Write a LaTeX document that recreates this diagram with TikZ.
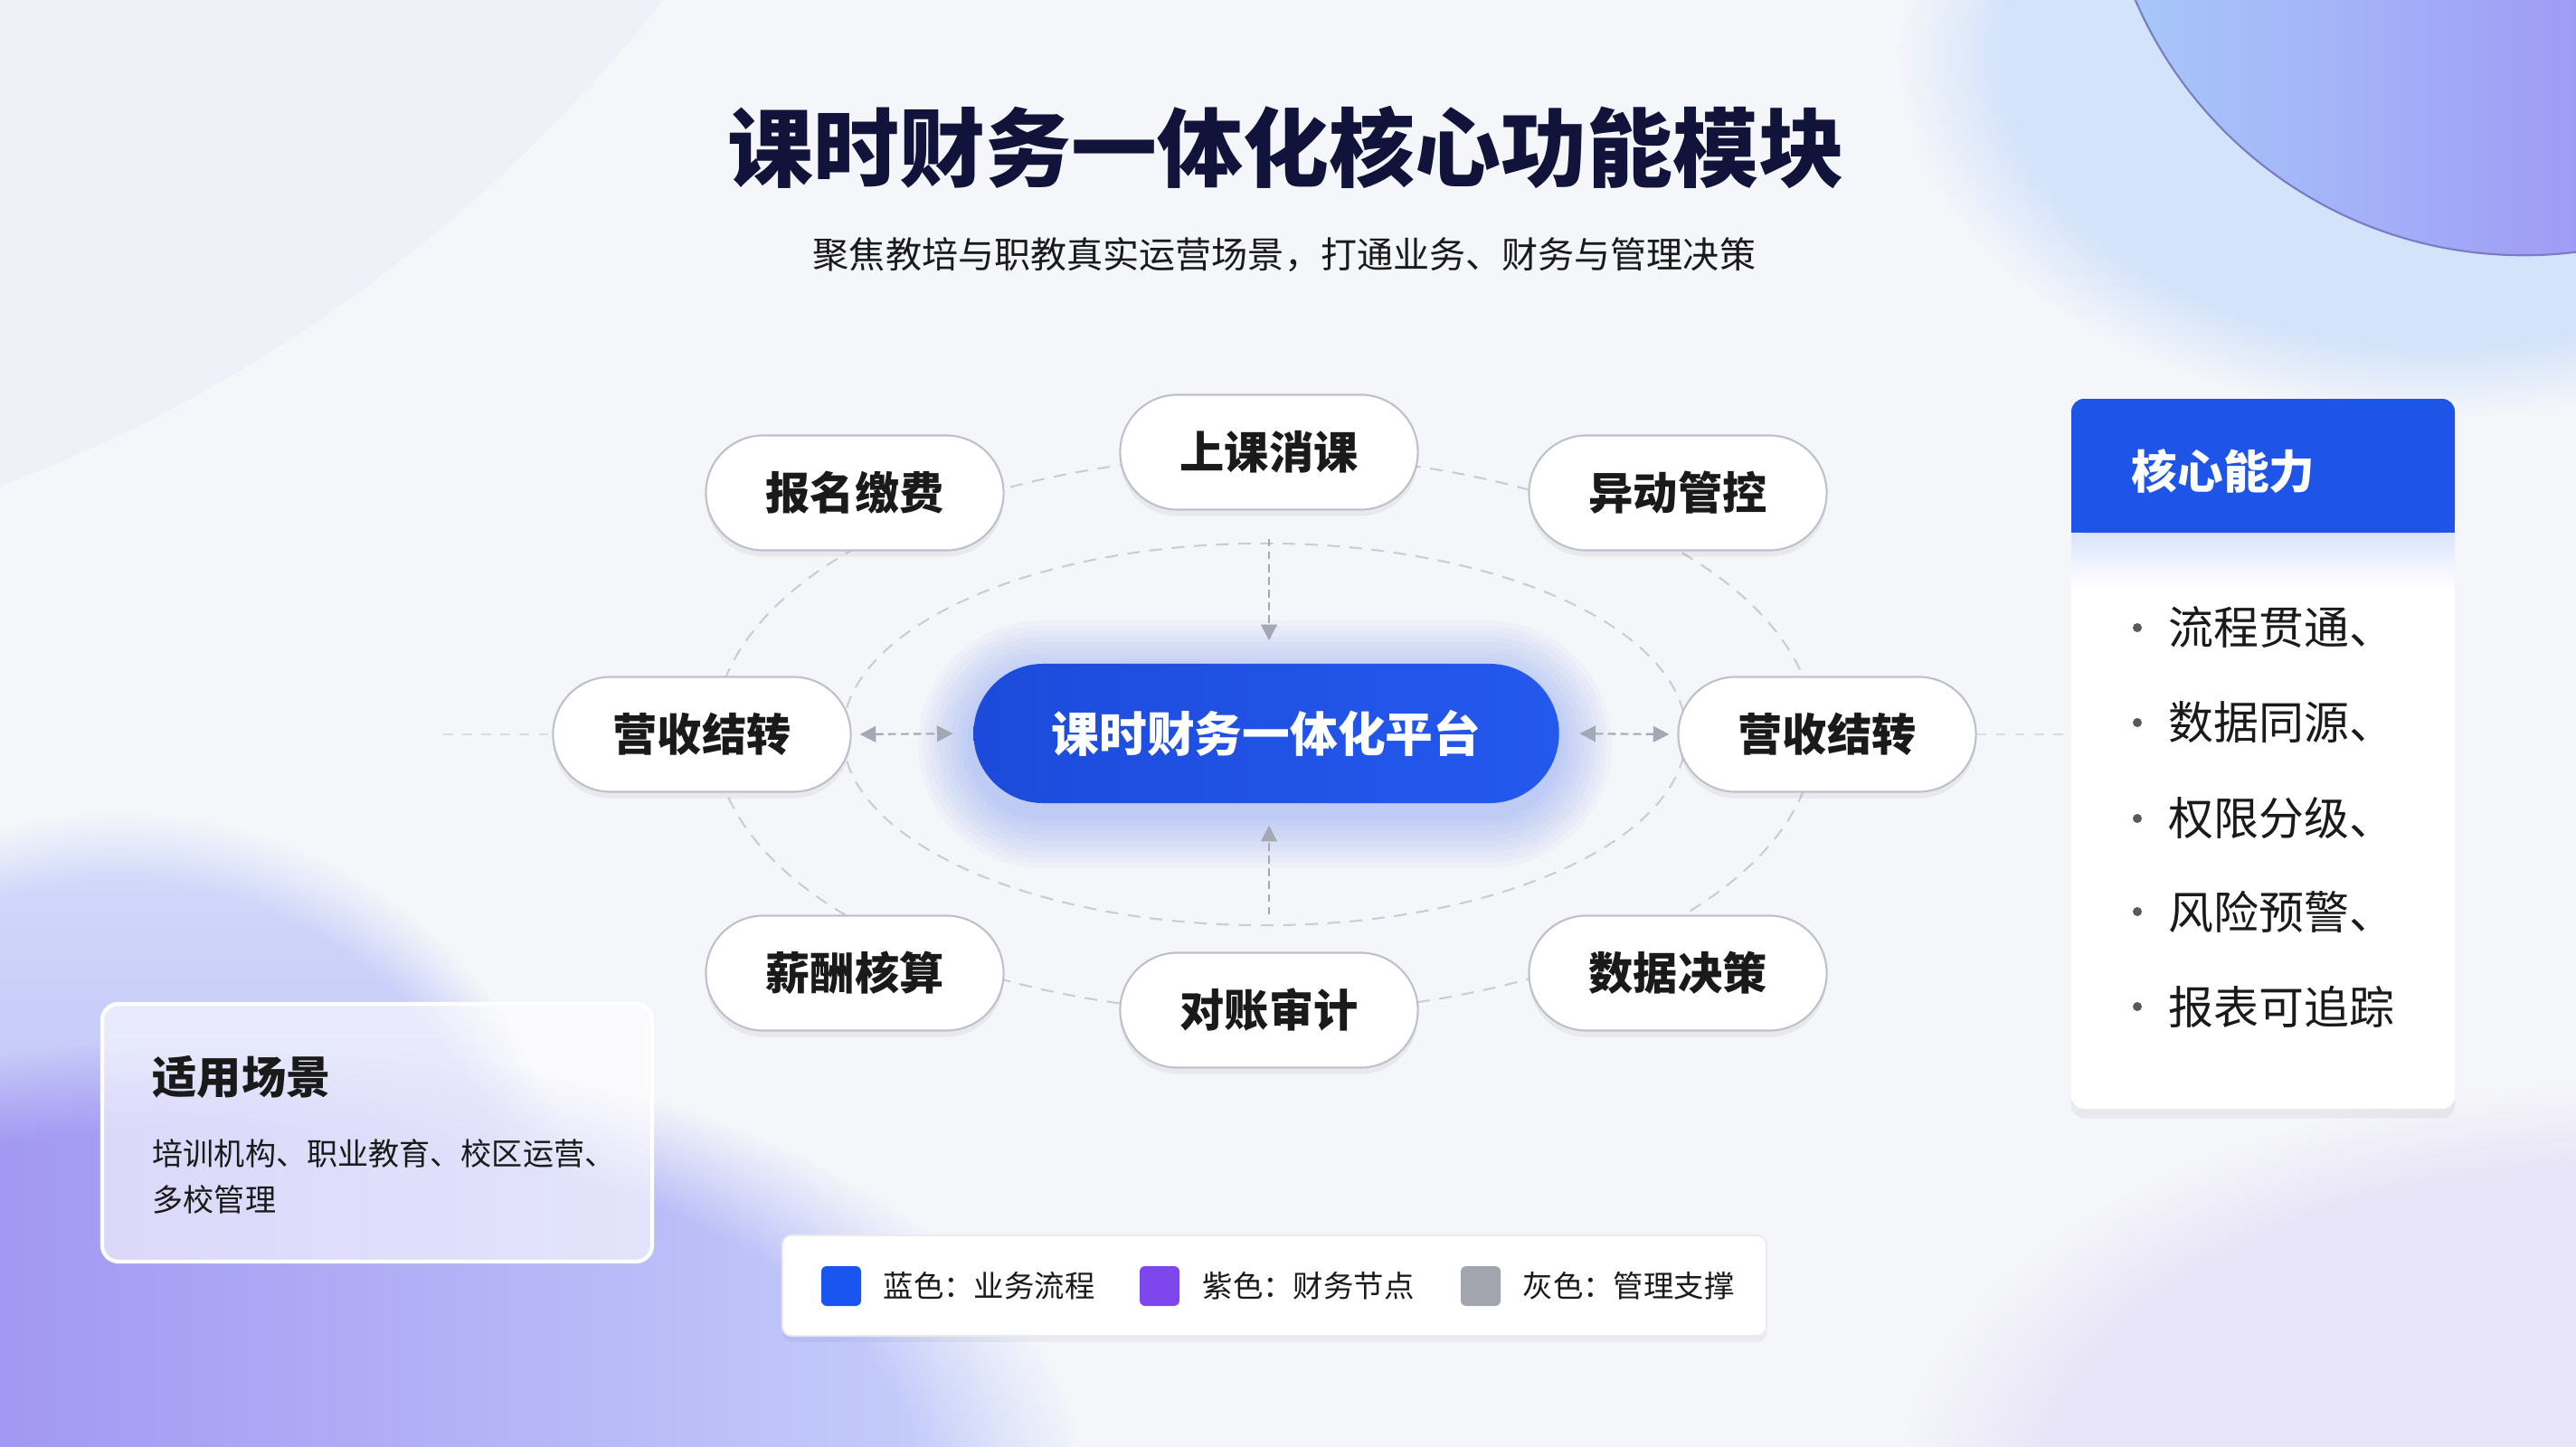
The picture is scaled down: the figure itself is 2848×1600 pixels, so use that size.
\documentclass[tikz,border=0pt]{standalone}
\usepackage{fontspec}
\setmainfont{Noto Sans CJK SC}
\usetikzlibrary{arrows.meta,shadows,fadings,calc}
\definecolor{bg}{HTML}{F5F6FA}
\definecolor{navy}{HTML}{12133A}
\definecolor{hubA}{HTML}{1C4BDB}
\definecolor{hubB}{HTML}{2459EE}
\definecolor{glowc}{HTML}{3A6BF5}
\definecolor{ringc}{HTML}{CACDD6}
\definecolor{nodeborder}{HTML}{BEC1CB}
\definecolor{arrowgray}{HTML}{A4A8B4}
\definecolor{faintc}{HTML}{DADCE4}
\definecolor{lgblue}{HTML}{1A55F0}
\definecolor{lgpurple}{HTML}{7E47EE}
\definecolor{lggray}{HTML}{A3A5AE}
\definecolor{txt}{HTML}{1A1A1A}
\definecolor{hdrblue}{HTML}{1F54E8}
\definecolor{tlblue}{HTML}{EFF1F9}
\definecolor{blobA}{HTML}{8C74EE}
\definecolor{blobB}{HTML}{C9D5FB}
\definecolor{blobC}{HTML}{D3DDFA}
\definecolor{blobD}{HTML}{A396F4}
\definecolor{trA}{HTML}{A8CAF9}
\definecolor{trM}{HTML}{B4ADF7}
\definecolor{trB}{HTML}{9878F3}
\definecolor{trLine}{HTML}{7C7BC2}
\definecolor{haze}{HTML}{D3E3FA}
\definecolor{lav}{HTML}{E9E5F8}
\begin{document}
\begin{tikzpicture}[x=0.01cm,y=-0.01cm,
  gtip/.tip={Triangle[length=5pt,width=5pt]},
  softshadow/.style={drop shadow={shadow xshift=0pt, shadow yshift=-2pt, opacity=0.05, fill=black}},
  mod/.style={draw=nodeborder, line width=0.6pt, fill=white, rounded corners=0.635cm,
    minimum width=3.29cm, minimum height=1.27cm, inner sep=0pt,
    font=\fontsize{14}{16}\selectfont\bfseries, text=txt, softshadow},
  hub/.style={rounded corners=0.77cm, minimum width=6.47cm, minimum height=1.54cm, inner sep=0pt,
    left color=hubA, right color=hubB, text=white, font=\fontsize{15}{17}\selectfont\bfseries},
  ring/.style={draw=ringc, line width=0.6pt, dash pattern=on 4pt off 3pt},
  arr/.style={draw=arrowgray, line width=0.6pt, dash pattern=on 2.5pt off 1.5pt},
  faint/.style={draw=faintc, line width=0.6pt, dash pattern=on 3pt off 3pt},
  bul/.style={anchor=west, inner sep=0pt, font=\fontsize{14.2}{16}\selectfont, text=txt},
  lgtext/.style={anchor=west, inner sep=0pt, font=\fontsize{9.5}{11}\selectfont, text=txt},
  sq/.style={rounded corners=0.06cm}
]
\useasboundingbox (0,0) rectangle (2848,1600);
% ---------- background ----------
\fill[bg] (0,0) rectangle (2848,1600);
\begin{scope}
\clip (0,0) rectangle (2848,1600);
\fill[tlblue] (-601,-1052) circle (16.98cm);
\fill[lav, path fading=circle with fuzzy edge 20 percent] (2900,1650) ellipse [x radius=8cm, y radius=4.5cm];
\fill[haze, path fading=circle with fuzzy edge 20 percent] (2700,60) ellipse [x radius=6cm, y radius=4cm];
\shade[top color=blobC, bottom color=blobD, path fading=circle with fuzzy edge 15 percent] (130,1420) circle (5.2cm);
\shade[left color=blobA, right color=blobB, path fading=circle with fuzzy edge 20 percent] (250,1650) ellipse [x radius=9.5cm, y radius=5cm];
\shade[left color=trA, middle color=trM, right color=trB] (2790,-185) circle (4.67cm);
\draw[trLine, line width=0.6pt] (2790,-185) circle (4.67cm);
\end{scope}
% ---------- title ----------
\node[font=\fontsize{27}{30}\selectfont\bfseries, text=navy] (title) at (1422,163) {课时财务一体化核心功能模块};
\node[font=\fontsize{11.4}{13}\selectfont, text=txt] (sub) at (1420,282) {聚焦教培与职教真实运营场景，打通业务、财务与管理决策};
% ---------- rings ----------
\draw[ring] (1398,812) ellipse [x radius=6.08cm, y radius=3.08cm];
\draw[ring] (1398,812) ellipse [x radius=4.66cm, y radius=2.11cm];
% ---------- hub glow ----------
\foreach \i in {1,...,10}{
  \pgfmathsetmacro\e{\i*6}
  \pgfmathsetmacro\r{(77+\e)*0.2845}
  \fill[glowc, opacity=0.03, rounded corners=\r pt] ({1075-\e},{746-\e}) rectangle ({1722+\e},{900+\e});
}
% ---------- nodes ----------
\node[mod] (reg) at (945,545) {报名缴费};
\node[mod] (up) at (1403,500) {上课消课};
\node[mod] (chg) at (1855,545) {异动管控};
\node[mod] (revl) at (776,812) {营收结转};
\node[mod] (revr) at (2020,812) {营收结转};
\node[mod] (pay) at (945,1076) {薪酬核算};
\node[mod] (aud) at (1403,1117) {对账审计};
\node[mod] (dec) at (1855,1076) {数据决策};
\node[hub] (hub) at (1400,811) {课时财务一体化平台};
% ---------- arrows ----------
\draw[arr, -{gtip}, shorten <=0.31cm, shorten >=0.25cm] (up.south) -- (up.south |- hub.north);
\draw[arr, -{gtip}, shorten <=0.41cm, shorten >=0.24cm] (aud.north) -- (aud.north |- hub.south);
\draw[arr, {gtip}-{gtip}, shorten <=0.09cm, shorten >=0.22cm] (revl.east) -- (hub.west);
\draw[arr, {gtip}-{gtip}, shorten <=0.22cm, shorten >=0.09cm] (hub.east) -- (revr.west);
\coordinate (lend) at (490,812);
\coordinate (rend) at (2290,812);
\draw[faint] (lend) -- (revl.west);
\draw[faint] (revr.east) -- (rend);
% ---------- right panel ----------
\fill[white, rounded corners=0.14cm, drop shadow={shadow xshift=0pt, shadow yshift=-3pt, opacity=0.05, fill=black}] (2290,441) rectangle (2714,1226);
\shade[top color=hdrblue!16, bottom color=white] (2290,589) rectangle (2714,650);
\fill[hdrblue, rounded corners=0.14cm] (2290,441) rectangle (2714,589);
\fill[hdrblue] (2290,560) rectangle (2714,589);
\node[anchor=west, inner sep=0pt, font=\fontsize{14.4}{16}\selectfont\bfseries, text=white] (cap) at (2356,521) {核心能力};
\foreach \y/\t [count=\k] in {694/流程贯通、,799/数据同源、,905/权限分级、,1008/风险预警、,1113/报表可追踪}{
  \fill[black!65] (2363,\y) circle (0.05cm);
  \node[bul] (b\k) at (2397,\y) {\t};
}
% ---------- left panel ----------
\fill[white, opacity=0.6, rounded corners=0.18cm] (113,1110) rectangle (721,1395);
\draw[white, line width=1.2pt, rounded corners=0.18cm] (113,1110) rectangle (721,1395);
\node[anchor=west, inner sep=0pt, font=\fontsize{14}{16}\selectfont\bfseries, text=txt] (scn) at (168,1191) {适用场景};
\node[anchor=west, inner sep=0pt, font=\fontsize{9.7}{11}\selectfont, text=txt] (scn1) at (168,1275) {培训机构、职业教育、校区运营、};
\node[anchor=west, inner sep=0pt, font=\fontsize{9.7}{11}\selectfont, text=txt] (scn2) at (168,1326) {多校管理};
% ---------- legend ----------
\fill[white, draw=black!8, line width=0.5pt, rounded corners=0.1cm, drop shadow={shadow xshift=0pt, shadow yshift=-2pt, opacity=0.04, fill=black}] (865,1366) rectangle (1953,1477);
\fill[lgblue, sq] (908,1400) rectangle (952,1444);
\node[lgtext] (l1) at (976,1422) {蓝色：业务流程};
\fill[lgpurple, sq] (1260,1400) rectangle (1304,1444);
\node[lgtext] (l2) at (1329,1422) {紫色：财务节点};
\fill[lggray, sq] (1615,1400) rectangle (1659,1444);
\node[lgtext] (l3) at (1683,1422) {灰色：管理支撑};
\end{tikzpicture}
\end{document}
